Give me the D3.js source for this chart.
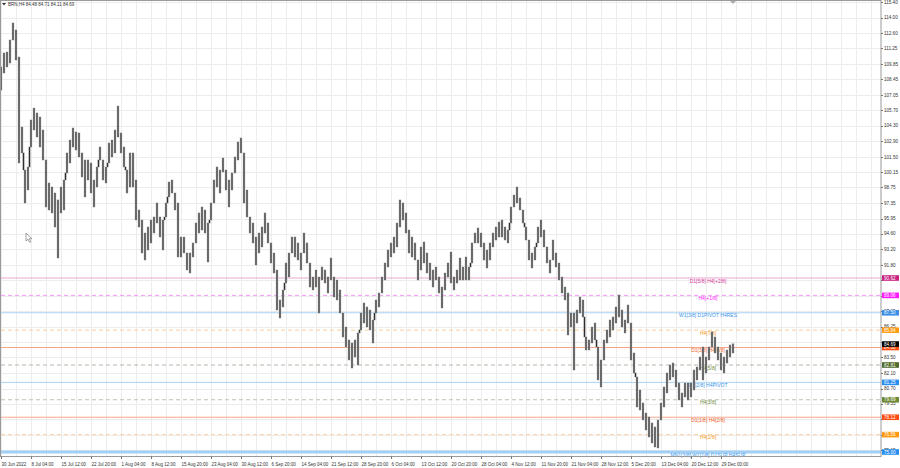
<!DOCTYPE html>
<html><head><meta charset="utf-8">
<script src="https://cdn.jsdelivr.net/npm/d3@7"></script>
<style>html,body{margin:0;padding:0;background:#fff;overflow:hidden}</style>
</head><body><svg id="c" width="900" height="468"></svg>
<script>
// ---------- DATA ----------
const symbolName = "BRN,H4";
const lastOHLC = [84.48, 84.71, 84.11, 84.69];
const lastPrice = 84.69;

const highs = [109.57,110.82,110.91,111.99,113.52,112.89,110.46,104.18,100.32,100.59,
104.81,105.88,105.44,105.08,103.91,101.22,99.15,98.79,98.25,97.63,
98.79,99.42,101.85,103.01,104.09,103.73,103.64,101.85,101.22,101.22,
100.95,99.42,100.59,102.38,101.22,100.59,102.74,103.01,103.91,106.06,
103.64,102.38,100.32,101.85,101.85,99.42,96.73,95.83,94.66,95.20,
95.83,96.10,97.36,96.10,95.83,97.36,99.24,99.42,98.25,97.36,
94.30,94.30,92.87,92.87,93.77,95.56,96.46,97.00,96.73,95.56,
97.36,99.42,100.59,100.32,101.40,100.32,99.42,100.05,101.49,102.83,
103.19,101.85,98.52,96.10,95.56,94.30,94.66,95.20,96.46,95.56,
93.77,92.87,91.34,88.65,89.55,91.97,92.87,94.30,94.30,93.77,
92.87,94.66,93.77,91.97,90.71,91.34,90.71,91.61,91.34,90.71,
92.42,90.71,90.44,89.55,87.48,86.22,85.06,84.79,85.06,85.69,
87.48,88.38,88.02,87.75,86.85,88.65,89.28,90.71,91.97,93.14,
93.77,94.30,95.56,97.63,97.36,96.46,94.93,94.30,93.77,92.24,
93.41,93.86,92.87,91.97,91.34,91.61,90.71,89.81,91.07,91.97,
92.96,90.71,91.34,92.42,91.61,92.51,91.61,93.77,94.66,95.11,
94.66,93.77,93.14,93.77,94.66,95.20,95.65,95.83,95.20,94.93,
97.00,98.07,98.79,97.81,96.73,95.20,94.03,92.87,93.41,95.20,
95.83,94.93,93.41,92.24,94.03,92.87,91.97,90.71,89.81,89.28,
87.48,87.48,87.75,88.92,88.65,85.33,85.06,86.22,86.58,84.43,
83.26,85.06,85.96,86.85,87.12,88.02,89.10,87.75,86.85,88.20,
86.58,83.89,81.74,80.57,79.40,78.50,78.15,77.61,77.25,77.88,
79.40,80.84,82.09,82.81,82.99,82.36,81.20,80.30,81.20,81.20,
81.20,82.36,82.63,83.53,84.43,83.53,84.43,85.78,85.33,84.43,
83.89,83.53,84.16,84.61,84.71];

const lows = [107.50,109.03,109.57,109.92,111.99,110.19,100.95,101.85,97.36,98.52,
102.38,103.91,103.28,102.38,101.22,97.00,96.73,96.46,95.20,92.42,
96.46,96.73,100.05,100.95,102.38,102.11,101.49,99.69,97.90,99.42,
98.25,97.00,98.79,101.22,99.42,99.15,100.95,101.49,101.85,103.28,
101.85,100.59,98.25,98.79,98.79,95.83,95.20,92.87,92.24,93.14,
93.77,94.66,95.56,94.30,93.14,96.10,97.90,98.25,96.73,92.51,
92.51,92.87,91.34,91.07,92.51,93.77,94.66,94.93,94.66,92.06,
95.83,97.36,98.79,98.25,100.14,98.52,97.00,98.52,100.05,101.22,
101.85,97.36,96.10,94.66,93.77,91.79,92.87,93.41,94.66,93.77,
91.97,91.07,87.75,87.03,88.02,90.17,90.71,92.87,92.51,92.24,
91.34,92.87,91.97,89.81,89.55,89.81,87.48,90.44,90.17,89.28,
90.44,88.92,88.65,87.48,85.33,84.43,83.26,82.54,83.53,82.81,
85.96,86.58,86.22,85.96,84.79,87.48,88.02,89.28,90.44,91.61,
92.51,92.87,93.41,95.20,95.83,94.66,92.87,92.51,92.24,90.44,
91.34,91.97,91.07,90.44,89.81,90.44,89.28,87.93,89.55,90.71,
90.17,89.55,90.17,90.44,90.44,90.44,90.44,91.97,93.77,93.77,
93.41,92.24,91.52,92.24,93.41,94.03,94.30,94.30,94.03,93.77,
95.56,97.00,97.36,96.73,95.56,94.03,92.24,91.52,92.24,93.77,
94.30,93.41,91.97,91.07,92.24,91.61,90.44,89.28,88.65,85.51,
86.22,82.36,86.58,87.48,87.12,84.16,84.16,84.79,85.06,81.47,
80.84,83.26,84.79,85.33,85.96,86.58,87.12,86.22,85.69,86.58,
83.26,82.09,79.04,78.77,77.88,76.98,76.35,75.81,75.45,75.36,
77.88,79.04,80.30,81.47,81.74,80.84,79.67,79.04,79.94,79.67,
79.94,80.57,81.47,82.36,81.47,82.09,83.26,84.43,83.89,83.26,
82.36,82.09,82.99,83.53,83.89];

const timeLabels = ["30 Jun 2022","8 Jul 04:00","15 Jul 12:00","22 Jul 20:00","1 Aug 04:00",
"8 Aug 12:00","15 Aug 20:00","23 Aug 04:00","30 Aug 12:00","6 Sep 20:00","14 Sep 04:00",
"21 Sep 12:00","28 Sep 20:00","6 Oct 04:00","13 Oct 12:00","20 Oct 20:00","28 Oct 04:00",
"4 Nov 12:00","11 Nov 20:00","21 Nov 04:00","28 Nov 12:00","5 Dec 20:00","13 Dec 04:00",
"20 Dec 12:00","29 Dec 00:00"];

const priceTicks = [115.40,114.00,112.60,111.25,109.85,108.45,107.05,105.70,104.30,102.90,
101.50,100.15,98.75,97.35,95.95,94.60,93.20,91.80,90.40,89.05,87.65,86.25,84.90,83.50,
82.10,80.70,79.35,77.95,76.55,75.15];

const levelPrices = [90.62,89.06,87.50,85.94,84.38,82.81,81.25,79.69,78.12,76.56,75.00];
const levelNames = ["D1[5/8] H4[+2/8]","H4[+1/8]","W1[3/8] D1PIVOT H4RES","H4[7/8]",
"D1[3/8] H4[6/8]","H4[5/8]","D1[2/8] H4PIVOT","H4[3/8]","D1[1/8] H4[2/8]","H4[1/8]",
"MN1[3/8] W1[2/8] D1SUP H4SUP"];

// ---------- STYLE ----------
const levelStyle = [
 {line:"#eba6cc", dash:null, w:1, text:"#d4349a", box:"#c8217f"},
 {line:"#f59af5", dash:"4,3", w:1, text:"#ff1aff", box:"#ff1aff"},
 {line:"#a9d3f5", dash:null, w:1, text:"#3b95ea", box:"#3b8ee4"},
 {line:"#f9cf9c", dash:"4,3", w:1, text:"#f79a1e", box:"#ff9a10"},
 {line:"#f7a484", dash:null, w:1, text:"#f2602a", box:"#ff4d12"},
 {line:"#b9b9aa", dash:"4,3", w:1, text:"#6d8a3a", box:"#4f6a2c"},
 {line:"#a9d3f5", dash:null, w:1, text:"#3b95ea", box:"#2a8df0"},
 {line:"#c0c0ae", dash:"4,3", w:1, text:"#6d8a3a", box:"#6f8a35"},
 {line:"#f7a88c", dash:null, w:1, text:"#f2602a", box:"#ff4d12"},
 {line:"#f9d3a6", dash:"4,3", w:1, text:"#f79a1e", box:"#ff9a10"},
 {line:"#a2cff5", dash:null, w:3, text:"#3b95ea", box:"#2a8df0"}
];
const FONT = "'Liberation Sans', Arial, sans-serif";
const plotRight = 881;
const plotBottom = 456.5;

const svg = d3.select("#c");
const x = d3.scaleLinear().domain([0, highs.length - 1]).range([1, 733]);
const y = d3.scaleLinear().domain([75.0, 115.4]).range([452, 2]);

// grid
const vIdx = d3.range(0, 300, 5).filter(i => x(i) < plotRight);
svg.append("g").selectAll("line").data(vIdx).join("line")
  .attr("x1", d => Math.round(x(d)) + 0.5).attr("x2", d => Math.round(x(d)) + 0.5)
  .attr("y1", 1).attr("y2", plotBottom)
  .attr("stroke", "#ececec").attr("stroke-width", 1);
svg.append("g").selectAll("line").data(priceTicks).join("line")
  .attr("x1", 1).attr("x2", plotRight)
  .attr("y1", d => Math.round(y(d)) + 0.5).attr("y2", d => Math.round(y(d)) + 0.5)
  .attr("stroke", "#ececec").attr("stroke-width", 1);

// level lines
const lv = svg.append("g");
levelPrices.forEach((p, i) => {
  const s = levelStyle[i];
  lv.append("line").attr("x1", 1).attr("x2", plotRight)
    .attr("y1", y(p)).attr("y2", y(p))
    .attr("stroke", s.line).attr("stroke-width", s.w)
    .attr("stroke-dasharray", s.dash);
});
levelPrices.forEach((p, i) => {
  lv.append("text").attr("x", 708).attr("y", y(p) + 4.6)
    .attr("text-anchor", "middle").attr("font-family", FONT).attr("font-size", 5)
    .attr("fill", levelStyle[i].text).text(levelNames[i]);
});

// price bars (high-low per slot) + connectors for gaps between consecutive slots
const idx = d3.range(highs.length);
const segs = [];
idx.forEach(i => {
  segs.push({x: x(i), a: highs[i], b: lows[i]});
  if (i < highs.length - 1) {
    const xm = (x(i) + x(i + 1)) / 2;
    if (lows[i] > highs[i + 1]) segs.push({x: xm, a: lows[i], b: highs[i + 1]});
    else if (highs[i] < lows[i + 1]) segs.push({x: xm, a: lows[i + 1], b: highs[i]});
  }
});
const bars = svg.append("g");
bars.selectAll("line.w").data(segs).join("line").attr("class", "w")
  .attr("x1", d => d.x).attr("x2", d => d.x)
  .attr("y1", d => y(d.a) - 0.4).attr("y2", d => y(d.b) + 0.4)
  .attr("stroke", "#b4b4b4").attr("stroke-width", 2.4);
bars.selectAll("line.b").data(segs).join("line").attr("class", "b")
  .attr("x1", d => d.x).attr("x2", d => d.x)
  .attr("y1", d => y(d.a)).attr("y2", d => y(d.b))
  .attr("stroke", "#2e2e2e").attr("stroke-width", 1.1);

// frame
svg.append("rect").attr("x", 0.5).attr("y", 0.5).attr("width", plotRight - 0.5).attr("height", plotBottom - 0.5)
  .attr("fill", "none").attr("stroke", "#9a9a9a").attr("stroke-width", 1);

// right axis (labels hidden under level boxes are skipped)
const boxPrices = levelPrices.concat([lastPrice]);
const visibleTicks = priceTicks.filter(t => d3.min(boxPrices, b => Math.abs(y(b) - y(t))) > 1.5 || t === 87.65 || t === 75.15);
const hiddenFree = visibleTicks.filter(t => !(d3.min(boxPrices, b => Math.abs(y(b) - y(t))) < 3 && t !== 87.65 && t !== 75.15));
const ax = svg.append("g");
ax.selectAll("text").data(hiddenFree).join("text")
  .attr("x", 884).attr("y", d => y(d) + 1.7)
  .attr("font-family", FONT).attr("font-size", 4.6).attr("fill", "#333")
  .text(d => d.toFixed(2));
ax.selectAll("line").data(priceTicks).join("line")
  .attr("x1", plotRight).attr("x2", plotRight + 2)
  .attr("y1", d => Math.round(y(d)) + 0.5).attr("y2", d => Math.round(y(d)) + 0.5)
  .attr("stroke", "#777");
levelPrices.forEach((p, i) => {
  const yc = y(p);
  ax.append("rect").attr("x", 882).attr("y", yc - 2.8).attr("width", 17).attr("height", 5.6)
    .attr("fill", levelStyle[i].box);
  ax.append("text").attr("x", 884).attr("y", yc + 1.7)
    .attr("font-family", FONT).attr("font-size", 4.6).attr("fill", "#fff").text(p.toFixed(2));
});
ax.append("rect").attr("x", 882).attr("y", y(lastPrice) - 2.8).attr("width", 17).attr("height", 5.6).attr("fill", "#000");
ax.append("text").attr("x", 884).attr("y", y(lastPrice) + 1.7)
  .attr("font-family", FONT).attr("font-size", 4.6).attr("fill", "#fff").text(lastPrice.toFixed(2));

// bottom axis
const bx = svg.append("g");
bx.selectAll("text").data(timeLabels).join("text")
  .attr("x", (d, i) => x(i * 10) + 0.5).attr("y", 465.5)
  .attr("font-family", FONT).attr("font-size", 4.5).attr("fill", "#333")
  .text(d => d);
bx.selectAll("line").data(timeLabels).join("line")
  .attr("x1", (d, i) => Math.round(x(i * 10)) + 0.5).attr("x2", (d, i) => Math.round(x(i * 10)) + 0.5)
  .attr("y1", plotBottom).attr("y2", plotBottom + 2.5).attr("stroke", "#777");

// legend
svg.append("path").attr("d", "M2,3 L6,3 L4,5.5 Z").attr("fill", "#333");
svg.append("text").attr("x", 8).attr("y", 6)
  .attr("font-family", FONT).attr("font-size", 4.5).attr("fill", "#333")
  .text(symbolName + "  " + lastOHLC.map(v => v.toFixed(2)).join(" "));

// chart-shift marker and mouse cursor
svg.append("path").attr("d", "M730,1 L736,1 L733,4 Z").attr("fill", "#b0b0b0");
svg.append("path").attr("d", "M26,233 L26,241 L28,239.2 L29.6,242.4 L30.8,241.8 L29.3,238.7 L31.8,238.7 Z")
  .attr("fill", "#fff").attr("stroke", "#666").attr("stroke-width", 0.6);
</script></body></html>
